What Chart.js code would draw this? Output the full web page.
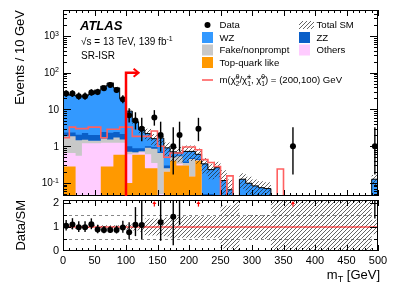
<!DOCTYPE html>
<html>
<head>
<meta charset="utf-8">
<script src="https://cdn.jsdelivr.net/npm/chart.js@4.4.1/dist/chart.umd.min.js"></script>
<style>
  body { margin: 0; background: #fff; }
  #wrap { position: relative; width: 399px; height: 286px; }
  canvas { position: absolute; left: 0; top: 0; }
</style>
</head>
<body>
<div id="wrap">
  <canvas id="mainChart" width="399" height="286"></canvas>
  <canvas id="ratioChart" width="399" height="286"></canvas>
</div>
<script>
/* =====================
   DATA (10 GeV bins in mT)
===================== */
const binLow = [0, 10, 20, 30, 40, 50, 60, 70, 80, 90,
  100, 110, 120, 130, 140, 150, 160, 170, 180, 190,
  200, 210, 220, 230, 240, 250, 260, 270, 280, 290,
  300, 310, 320, 330, 340, 350, 360, 370, 380, 390,
  400, 410, 420, 430, 440, 450, 460, 470, 480, 490];
const binWidth = 10;
const xTicks = [0, 50, 100, 150, 200, 250, 300, 350, 400, 450, 500];

const dataCounts = [27, 27, 23, 23, 29, 30, 38, 46, 34, 19,
  7, 5, 3, 0, 6, 2, 0, 1, 2, 0,
  0, 3, 0, 0, 0, 0, 0, 0, 0, 0,
  0, 0, 0, 0, 0, 0, 1, 0, 0, 0,
  0, 0, 0, 0, 0, 0, 0, 0, 0, 1];

// 68% Poisson interval [low, high] for the observed counts
const poissonBand = {
  1: [0.17, 3.30], 2: [0.71, 4.64], 3: [1.37, 5.92], 5: [2.84, 8.38],
  6: [3.62, 9.58], 7: [4.42, 10.77], 19: [14.8, 24.4], 23: [18.3, 28.8],
  27: [21.9, 33.3], 29: [23.7, 35.5], 30: [24.6, 36.5], 34: [28.2, 40.9],
  38: [31.9, 45.2], 46: [39.3, 53.9]
};

const bkgTopQuark = [0.28, 0.28, 0, 0, 0, 0, 0.28, 0.28, 0.58, 0.58,
  0.1, 0.58, 0.58, 0.25, 0.25, 0.02, 0.2, 0.4, 0.3, 0.3,
  0.15, 0.4, 0, 0, 0, 0, 0, 0, 0, 0,
  0, 0, 0, 0, 0, 0, 0, 0, 0, 0,
  0, 0, 0, 0, 0, 0, 0, 0, 0, 0];
const bkgOthers = [0.37, 0.37, 0.55, 1.2, 1.2, 1.2, 0.95, 0.95, 0.65, 0.65,
  0.5, 0.05, 0.1, 0.35, 0.1, 0.03, 0, 0, 0.03, 0,
  0, 0, 0, 0, 0, 0, 0, 0, 0, 0,
  0, 0, 0, 0, 0, 0, 0, 0, 0, 0,
  0, 0, 0, 0, 0, 0, 0, 0, 0, 0];
const bkgFake = [1.2, 1.2, 0.9, 0.3, 0.2, 0.2, 0.4, 0.3, 0.5, 0.3,
  0.1, 0.05, 0.05, 0.3, 0.5, 0.6, 0.05, 0.1, 0.2, 0.05,
  0.3, 0.02, 0.02, 0.02, 0, 0, 0, 0, 0, 0,
  0, 0, 0, 0, 0, 0, 0, 0, 0, 0,
  0, 0, 0, 0, 0, 0, 0, 0, 0, 0];
const bkgZZ = [0.5, 0.5, 0.6, 0.8, 0.6, 0.6, 0.8, 0.8, 0.7, 0.6,
  0.3, 0.2, 0.15, 0.1, 0.1, 0.05, 0.05, 0.03, 0.03, 0.03,
  0.03, 0.03, 0.03, 0.03, 0.03, 0.016, 0.005, 0, 0.016, 0.008,
  0.008, 0.006, 0.005, 0, 0, 0, 0, 0, 0, 0,
  0, 0, 0, 0, 0, 0, 0, 0, 0, 0.006];
const bkgWZ = [23.4, 22.0, 21.2, 20.9, 24.1, 31.3, 40.8, 50.0, 36.2, 17.3,
  8.0, 3.7, 1.9, 1.2, 0.65, 0.97, 0.6, 0.17, 0.1, 0.34,
  0.24, 0.15, 0.28, 0.18, 0.23, 0.1, 0.06, 0, 0.11, 0.09,
  0.075, 0.068, 0.065, 0, 0, 0, 0, 0, 0, 0,
  0, 0, 0, 0, 0, 0, 0, 0, 0, 0.12];
// relative total uncertainty of the SM prediction
const bkgRelUnc = [0.07, 0.07, 0.07, 0.07, 0.07, 0.07, 0.07, 0.07, 0.07, 0.07,
  0.1, 0.15, 0.2, 0.35, 0.35, 0.35, 0.4, 0.45, 0.45, 0.45,
  0.45, 0.45, 0.45, 0.45, 0.45, 0.9, 0.9, 0, 0.45, 0.5,
  0.5, 0.5, 0.5, 0, 0, 0, 0, 0, 0, 0,
  0, 0, 0, 0, 0, 0, 0, 0, 0, 0.3];
const signal = [1.7, 3.3, 3.0, 3.0, 3.3, 3.3, 1.7, 2.9, 2.9, 3.3,
  3.3, 1.85, 1.85, 1.85, 2.6, 1.0, 0.5, 0.65, 0.65, 0.95,
  0.95, 0.8, 0.43, 0.36, 0.28, 0, 0.155, 0, 0, 0,
  0, 0, 0, 0, 0.24, 0, 0, 0, 0, 0,
  0, 0, 0, 0, 0, 0, 0, 0, 0, 0];

const mainTicks = [0.1, 1, 10, 100, 1000];
const mainTickLabels = [["10", "-1"], ["1", ""], ["10", ""], ["10", "2"], ["10", "3"]];
const ratioTicks = [0, 1, 2];
const ratioDashed = [0.5, 1.5];
const cutValue = 100;        // selection mT > 100 GeV
const cutArrowY = 100;
const cutArrowEnd = 120;

/* =====================
   STYLE
===================== */
const X_MAX = 500;
const Y_MIN = 0.044, Y_MAX = 5100;
const R_MIN = 0, R_MAX = 2.125;
const FONT = '"Liberation Sans", Arial, Helvetica, sans-serif';
const colWZ = "#3399ff", colZZ = "#0a5fc8", colFake = "#c8c8c8",
  colOthers = "#ffccff", colTop = "#ff9900", colSig = "#ff6060";

const mainCanvas = document.getElementById("mainChart");
const ratioCanvas = document.getElementById("ratioChart");

function makeHatch(ctx) {
  const c = document.createElement("canvas");
  c.width = 4; c.height = 4;
  const g = c.getContext("2d");
  g.strokeStyle = "#222";
  g.lineWidth = 0.7;
  g.beginPath();
  g.moveTo(0, 4); g.lineTo(4, 0);
  g.moveTo(-1, 1); g.lineTo(1, -1);
  g.moveTo(3, 5); g.lineTo(5, 3);
  g.stroke();
  return ctx.createPattern(c, "repeat");
}
const hatchMain = makeHatch(mainCanvas.getContext("2d"));
const hatchRatio = makeHatch(ratioCanvas.getContext("2d"));

/* =====================
   DERIVED
===================== */
const binCenter = binLow.map(x => x + binWidth / 2);
const cumTop = bkgTopQuark.slice();
const cumOthers = cumTop.map((v, i) => v + bkgOthers[i]);
const cumFake = cumOthers.map((v, i) => v + bkgFake[i]);
const cumZZ = cumFake.map((v, i) => v + bkgZZ[i]);
const totalSM = cumZZ.map((v, i) => v + bkgWZ[i]);

function histLine(vals, floor) {
  const pts = binLow.map((x, i) => ({ x, y: Math.max(vals[i], floor) }));
  pts.push({ x: X_MAX, y: Math.max(vals[vals.length - 1], floor) });
  return pts;
}

function stepSet(vals, extra) {
  return Object.assign({
    data: histLine(vals, Y_MIN),
    stepped: true,
    pointRadius: 0,
    borderWidth: 0,
    fill: false
  }, extra);
}

/* =====================
   PLUGINS
===================== */
function clipArea(ctx, a) {
  ctx.beginPath();
  ctx.rect(a.left, a.top, a.right - a.left, a.bottom - a.top);
  ctx.clip();
}

function errorBarPlugin(bars) {
  return {
    id: "errorBars",
    afterDatasetsDraw(chart) {
      const { ctx, chartArea, scales: { x, y } } = chart;
      ctx.save();
      clipArea(ctx, chartArea);
      ctx.strokeStyle = "#000";
      ctx.lineWidth = 1.4;
      bars.forEach(b => {
        const px = x.getPixelForValue(b.x);
        ctx.beginPath();
        ctx.moveTo(px, y.getPixelForValue(b.lo));
        ctx.lineTo(px, y.getPixelForValue(b.hi));
        ctx.stroke();
      });
      ctx.restore();
    }
  };
}

function frameTicks(chart, yMajor, yMinor, yMajLen, yMinLen) {
  const { ctx, chartArea: a, scales: { x, y } } = chart;
  ctx.save();
  ctx.strokeStyle = "#000";
  ctx.lineWidth = 1;
  ctx.strokeRect(Math.round(a.left) + 0.5, Math.round(a.top) + 0.5,
    Math.round(a.right - a.left) - 1, Math.round(a.bottom - a.top) - 1);
  ctx.beginPath();
  for (let v = 0; v <= X_MAX; v += 10) {
    const px = Math.round(x.getPixelForValue(v)) + 0.5;
    const len = v % 50 === 0 ? 6 : 3;
    ctx.moveTo(px, a.bottom); ctx.lineTo(px, a.bottom - len);
    ctx.moveTo(px, a.top); ctx.lineTo(px, a.top + len);
  }
  const tick = (v, len) => {
    const py = Math.round(y.getPixelForValue(v)) + 0.5;
    if (py < a.top || py > a.bottom) return;
    ctx.moveTo(a.left, py); ctx.lineTo(a.left + len, py);
    ctx.moveTo(a.right, py); ctx.lineTo(a.right - len, py);
  };
  yMajor.forEach(v => tick(v, yMajLen));
  yMinor.forEach(v => tick(v, yMinLen));
  ctx.stroke();
  ctx.restore();
}

function drawScript(ctx, parts, x, y, size) {
  // parts: [text, mode] with mode "", "sup", "sub", or [sup, sub] pair
  let cx = x;
  const small = size * 0.7;
  parts.forEach(([t, mode]) => {
    if (Array.isArray(t)) {
      ctx.font = small + "px " + FONT;
      ctx.fillText(t[0], cx, y - size * 0.38);
      ctx.fillText(t[1], cx, y + size * 0.28);
      cx += Math.max(ctx.measureText(t[0]).width, ctx.measureText(t[1]).width);
      return;
    }
    ctx.font = (mode ? small : size) + "px " + FONT;
    const dy = mode === "sup" ? -size * 0.38 : mode === "sub" ? size * 0.25 : 0;
    ctx.fillText(t, cx, y + dy);
    cx += ctx.measureText(t).width;
  });
  return cx;
}

const mainDeco = {
  id: "mainDeco",
  afterDraw(chart) {
    const { ctx, chartArea: a, scales: { x, y } } = chart;
    // minor log ticks
    const minors = [];
    for (let d = -2; d <= 3; d++) {
      for (let m = 2; m <= 9; m++) minors.push(m * Math.pow(10, d));
    }
    frameTicks(chart, mainTicks, minors, 8, 4);

    // selection arrow
    ctx.save();
    clipArea(ctx, a);
    ctx.strokeStyle = "#ff0000";
    ctx.lineWidth = 2.5;
    const cx = x.getPixelForValue(cutValue);
    const cy = y.getPixelForValue(cutArrowY);
    const ex = x.getPixelForValue(cutArrowEnd);
    ctx.beginPath();
    ctx.moveTo(cx, a.bottom);
    ctx.lineTo(cx, cy);
    ctx.lineTo(ex - 1, cy);
    ctx.stroke();
    ctx.lineWidth = 2;
    ctx.beginPath();
    ctx.moveTo(ex - 5, cy - 4);
    ctx.lineTo(ex, cy);
    ctx.lineTo(ex - 5, cy + 4);
    ctx.stroke();
    ctx.restore();

    ctx.save();
    ctx.fillStyle = "#000";
    ctx.textBaseline = "alphabetic";
    // y tick labels
    mainTicks.forEach((v, i) => {
      const py = y.getPixelForValue(v) + 3.5;
      const [base, exp] = mainTickLabels[i];
      ctx.font = "10px " + FONT;
      const wb = ctx.measureText(base).width;
      ctx.font = "7px " + FONT;
      const we = exp ? ctx.measureText(exp).width : 0;
      const x0 = a.left - 4 - wb - we;
      ctx.textAlign = "left";
      drawScript(ctx, [[base, ""], [exp, "sup"]], x0, py, 10);
    });

    // y title
    ctx.save();
    ctx.translate(23.5, a.top);
    ctx.rotate(-Math.PI / 2);
    ctx.textAlign = "right";
    ctx.font = "13px " + FONT;
    ctx.fillText("Events / 10 GeV", 0, 0);
    ctx.restore();

    // ATLAS block
    ctx.textAlign = "left";
    ctx.font = "italic bold 13px " + FONT;
    ctx.fillText("ATLAS", 80, 29.5);
    drawScript(ctx, [["\u221As = 13 TeV, 139 fb", ""], ["-1", "sup"]], 81, 45, 10);
    ctx.font = "10px " + FONT;
    ctx.fillText("SR-ISR", 81, 58.5);

    // legend
    const legend = [
      { label: "Data", kind: "point", col: 0, row: 0 },
      { label: "WZ", kind: "box", color: colWZ, col: 0, row: 1 },
      { label: "Fake/nonprompt", kind: "box", color: colFake, col: 0, row: 2 },
      { label: "Top-quark like", kind: "box", color: colTop, col: 0, row: 3 },
      { label: "Total SM", kind: "hatch", col: 1, row: 0 },
      { label: "ZZ", kind: "box", color: colZZ, col: 1, row: 1 },
      { label: "Others", kind: "box", color: colOthers, col: 1, row: 2 }
    ];
    const colX = [202, 299], rowY = [25, 37.5, 50, 62.5];
    ctx.textBaseline = "middle";
    legend.forEach(e => {
      const sx = colX[e.col], sy = rowY[e.row];
      if (e.kind === "point") {
        ctx.beginPath();
        ctx.arc(sx + 5.5, sy, 3, 0, Math.PI * 2);
        ctx.fill();
      } else if (e.kind === "box") {
        ctx.fillStyle = e.color;
        ctx.fillRect(sx, sy - 5.5, 11, 11);
      } else {
        ctx.fillStyle = hatchMain;
        ctx.fillRect(sx, sy - 4, 15, 8);
      }
      ctx.fillStyle = "#000";
      ctx.font = "9.6px " + FONT;
      ctx.fillText(e.label, sx + 17.5, sy + 0.5);
    });
    // signal entry
    ctx.strokeStyle = colSig;
    ctx.lineWidth = 1.6;
    ctx.beginPath();
    ctx.moveTo(202, 80); ctx.lineTo(213, 80);
    ctx.stroke();
    ctx.textBaseline = "alphabetic";
    drawScript(ctx, [
      ["m(\u03C7\u0303", ""], [["0", "2"], ""], ["/\u03C7\u0303", ""], [["\u00B1", "1"], ""],
      [", \u03C7\u0303", ""], [["0", "1"], ""], [") = (200,100) GeV", ""]
    ], 219.5, 83, 9.6);
    ctx.restore();
  }
};

const ratioDeco = {
  id: "ratioDeco",
  beforeDatasetsDraw(chart) {
    const { ctx, chartArea: a, scales: { y } } = chart;
    ctx.save();
    ctx.strokeStyle = "#888";
    ctx.lineWidth = 1;
    ctx.setLineDash([3, 3]);
    ratioDashed.forEach(v => {
      const py = Math.round(y.getPixelForValue(v)) + 0.5;
      ctx.beginPath();
      ctx.moveTo(a.left, py); ctx.lineTo(a.right, py);
      ctx.stroke();
    });
    ctx.restore();
  },
  afterDraw(chart) {
    const { ctx, chartArea: a, scales: { x, y } } = chart;
    frameTicks(chart, ratioTicks, ratioDashed, 8, 4);
    // arrows for points above range
    ctx.save();
    ctx.strokeStyle = "#ff0000";
    ctx.fillStyle = "#ff0000";
    ctx.lineWidth = 1.2;
    dataCounts.forEach((n, i) => {
      if (!n) return;
      const lo = poissonBand[n][0];
      if (totalSM[i] > 0 && lo / totalSM[i] < R_MAX) return;
      const px = x.getPixelForValue(binCenter[i]);
      const y0 = y.getPixelForValue(1.85), y1 = y.getPixelForValue(2.08);
      ctx.beginPath();
      ctx.moveTo(px, y0); ctx.lineTo(px, y1 + 2);
      ctx.stroke();
      ctx.beginPath();
      ctx.moveTo(px - 2, y1 + 3); ctx.lineTo(px, y1); ctx.lineTo(px + 2, y1 + 3);
      ctx.closePath();
      ctx.fill();
    });
    ctx.restore();

    ctx.save();
    ctx.fillStyle = "#000";
    ctx.translate(24.5, a.top);
    ctx.rotate(-Math.PI / 2);
    ctx.textAlign = "right";
    ctx.font = "13px " + FONT;
    ctx.fillText("Data/SM", 0, 0);
    ctx.restore();

    ctx.save();
    ctx.fillStyle = "#000";
    ctx.textAlign = "left";
    ctx.font = "13px " + FONT;
    const w = ctx.measureText("m").width;
    ctx.font = "9px " + FONT;
    const wt = ctx.measureText("T").width;
    ctx.font = "13px " + FONT;
    const wr = ctx.measureText(" [GeV]").width;
    const x0 = 380 - w - wt - wr;
    drawScript(ctx, [["m", ""], ["T", "sub"], [" [GeV]", ""]], x0, 278.5, 13);
    ctx.restore();
  }
};

/* =====================
   MAIN PANEL
===================== */
const dataPoints = [];
const mainBars = [];
const ratioPoints = [];
const ratioBars = [];
dataCounts.forEach((n, i) => {
  if (!n) return;
  const [lo, hi] = poissonBand[n];
  dataPoints.push({ x: binCenter[i], y: n });
  mainBars.push({ x: binCenter[i], lo, hi });
  if (totalSM[i] > 0) {
    ratioPoints.push({ x: binCenter[i], y: n / totalSM[i] });
    ratioBars.push({ x: binCenter[i], lo: lo / totalSM[i], hi: hi / totalSM[i] });
  }
});

const bandHi = totalSM.map((v, i) => v * (1 + bkgRelUnc[i]));
const bandLo = totalSM.map((v, i) => v * (1 - bkgRelUnc[i]));

new Chart(mainCanvas, {
  type: "line",
  data: {
    datasets: [
      { data: dataPoints, showLine: false, pointRadius: 3, pointBackgroundColor: "#000",
        pointBorderWidth: 0, borderWidth: 0 },
      stepSet(signal, { borderColor: colSig, borderWidth: 1.6 }),
      stepSet(totalSM, { borderColor: "#000", borderWidth: 1 }),
      stepSet(bandHi, { fill: "+1", backgroundColor: hatchMain }),
      stepSet(bandLo, {}),
      stepSet(cumTop, { fill: "start", backgroundColor: colTop }),
      stepSet(cumOthers, { fill: "start", backgroundColor: colOthers }),
      stepSet(cumFake, { fill: "start", backgroundColor: colFake }),
      stepSet(cumZZ, { fill: "start", backgroundColor: colZZ }),
      stepSet(totalSM, { fill: "start", backgroundColor: colWZ })
    ]
  },
  options: {
    responsive: false,
    animation: false,
    events: [],
    layout: { padding: { left: 63, right: 21, top: 10, bottom: 90 } },
    scales: {
      x: { type: "linear", min: 0, max: X_MAX, display: false },
      y: { type: "logarithmic", min: Y_MIN, max: Y_MAX, display: false }
    },
    plugins: { legend: { display: false }, tooltip: { enabled: false } }
  },
  plugins: [errorBarPlugin(mainBars), mainDeco]
});

/* =====================
   RATIO PANEL
===================== */
const ratioHi = totalSM.map((v, i) => v > 0 ? 1 + bkgRelUnc[i] : 2 * R_MAX);
const ratioLo = totalSM.map((v, i) => v > 0 ? 1 - bkgRelUnc[i] : R_MIN);
const ratioOne = binLow.map(() => 1);

function ratioStep(vals, extra) {
  return Object.assign({
    data: histLine(vals, -1),
    stepped: true,
    pointRadius: 0,
    borderWidth: 0,
    fill: false
  }, extra);
}

new Chart(ratioCanvas, {
  type: "line",
  data: {
    datasets: [
      { data: ratioPoints, showLine: false, pointRadius: 3, pointBackgroundColor: "#000",
        pointBorderWidth: 0, borderWidth: 0 },
      ratioStep(ratioOne, { borderColor: "#ff0000", borderWidth: 1 }),
      ratioStep(ratioHi, { fill: "+1", backgroundColor: hatchRatio }),
      ratioStep(ratioLo, {})
    ]
  },
  options: {
    responsive: false,
    animation: false,
    events: [],
    layout: { padding: { left: 0, right: 21, top: 200, bottom: 0 } },
    scales: {
      x: {
        type: "linear", min: 0, max: X_MAX,
        afterBuildTicks: s => { s.ticks = xTicks.map(v => ({ value: v })); },
        ticks: { color: "#000", font: { family: FONT, size: 11 }, padding: 3, maxRotation: 0, autoSkip: false },
        grid: { display: false, drawTicks: false },
        border: { display: false },
        afterFit: s => { s.height = 35; }
      },
      y: {
        type: "linear", min: R_MIN, max: R_MAX,
        afterBuildTicks: s => { s.ticks = ratioTicks.map(v => ({ value: v })); },
        ticks: { color: "#000", font: { family: FONT, size: 11 }, padding: 4 },
        grid: { display: false, drawTicks: false },
        border: { display: false },
        afterFit: s => { s.width = 63; }
      }
    },
    plugins: { legend: { display: false }, tooltip: { enabled: false } }
  },
  plugins: [errorBarPlugin(ratioBars), ratioDeco]
});
</script>
</body>
</html>
